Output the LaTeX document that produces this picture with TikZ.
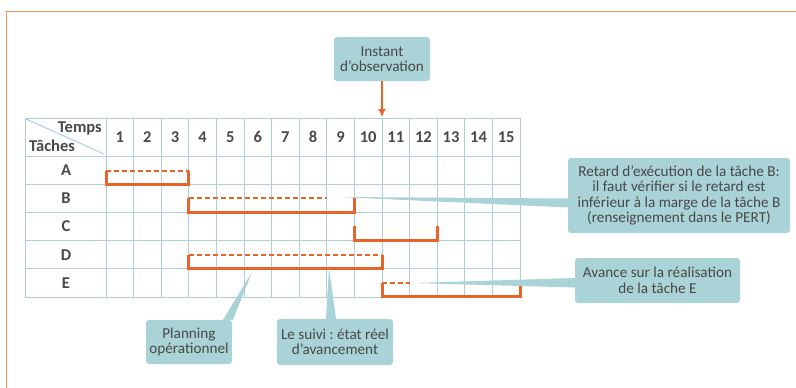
\documentclass[tikz,border=0pt]{standalone}
\usepackage{fontspec}
\setmainfont{Carlito}
\usetikzlibrary{arrows.meta}
\frenchspacing
\begin{document}
\begin{tikzpicture}[x=1pt,y=-1pt,
  gridline/.style={draw=gridc,line width=1pt},
  solidbar/.style={draw=barc,line width=3pt,line cap=butt,line join=miter},
  dashbar/.style={draw=barc,line width=2pt,dash pattern=on 5pt off 3pt},
  callout/.style={fill=boxc,rounded corners=3pt,inner sep=0pt,align=center,text=txtc,font=\fontsize{15.2}{15.5}\selectfont},
  wedge/.style={fill=boxc},
  hdr/.style={text=txtc,font=\fontsize{16.5}{17}\selectfont\bfseries,inner sep=0pt}]
\definecolor{gridc}{RGB}{172,208,214}
\definecolor{barc}{RGB}{232,100,42}
\definecolor{boxc}{RGB}{170,211,215}
\definecolor{txtc}{RGB}{72,72,72}
\definecolor{framec}{RGB}{240,150,90}
\useasboundingbox (0,0) rectangle (796,388);
\fill[white] (0,0) rectangle (796,388);
% frame
\draw[framec,line width=1pt] (6,388) -- (6,11) -- (796,11);
% grid
\foreach \i in {0,...,15} \draw[gridline] ({106+27.6*\i},118) -- ({106+27.6*\i},297);
\draw[gridline] (25,118) -- (25,297);
\draw[gridline] (25,118) -- (520,118);
\draw[gridline] (25,156) -- (520,156);
\foreach \j in {1,...,5} \draw[gridline] (25,{156+28.2*\j}) -- (520,{156+28.2*\j});
\draw[gridline] (26,119) -- (104,154);
\node[hdr,anchor=east] (temps) at (102,128) {Temps};
\node[hdr,anchor=west] (taches) at (29,146) {Tâches};
\foreach \i in {1,...,15} \node[hdr] (n\i) at ({106+27.6*\i-13.8},137) {\i};
\foreach \t [count=\j] in {A,B,C,D,E} \node[hdr] (t\t) at (66,{156+28.2*\j-14.1}) {\t};
% bars
\draw[solidbar] (106,171) -- (106,184) -- (188.8,184) -- (188.8,171);
\draw[dashbar] (106,171) -- (188.8,171);
\draw[solidbar] (188.8,198) -- (188.8,212) -- (354.4,212) -- (354.4,198);
\draw[dashbar] (188.8,198) -- (326.8,198);
\draw[solidbar] (354.4,226) -- (354.4,240) -- (437.2,240) -- (437.2,226);
\draw[solidbar] (188.8,255) -- (188.8,268.5) -- (382,268.5) -- (382,255);
\draw[dashbar] (188.8,255) -- (382,255);
\draw[solidbar] (382,283) -- (382,296.5) -- (520,296.5) -- (520,283);
\draw[dashbar] (382,283) -- (409.6,283);
% callouts
\node[callout,minimum width=96pt,minimum height=44pt] (instant) at (382,59) {Instant\\d’observation};
\node[callout,minimum width=222pt,minimum height=75pt] (retard) at (679,195.5) {Retard d’exécution de la tâche B:\\il faut vérifier si le retard est\\inférieur à la marge de la tâche B\\(renseignement dans le PERT)};
\node[callout,minimum width=165pt,minimum height=45pt] (avance) at (657.5,280.5) {Avance sur la réalisation\\de la tâche E};
\node[callout,minimum width=86pt,minimum height=44pt] (planning) at (189,342) {Planning\\opérationnel};
\node[callout,minimum width=116pt,minimum height=46pt] (suivi) at (335,342) {Le suivi : état réel\\d’avancement};
\coordinate (obs) at (382,117);
\coordinate (rB) at (340,197);
\coordinate (rE) at (413,283);
\coordinate (pD) at (252,272);
\coordinate (sD) at (329,268);
% connectors
\draw[barc,line width=2pt,-{Latex[length=8pt,width=8pt]}] (instant.south) -- (obs);
\fill[wedge] (rB) -- ([yshift=-12pt]retard.west) -- ([yshift=-3pt]retard.west) -- cycle;
\fill[wedge] (rE) -- ([yshift=-7pt]avance.west) -- ([yshift=2.5pt]avance.west) -- cycle;
\fill[wedge] (pD) -- ([xshift=34pt]planning.north) -- ([xshift=44pt]planning.north) -- cycle;
\fill[wedge] (sD) -- ([xshift=-9pt]suivi.north) -- ([xshift=1pt]suivi.north) -- cycle;
\end{tikzpicture}
\end{document}
